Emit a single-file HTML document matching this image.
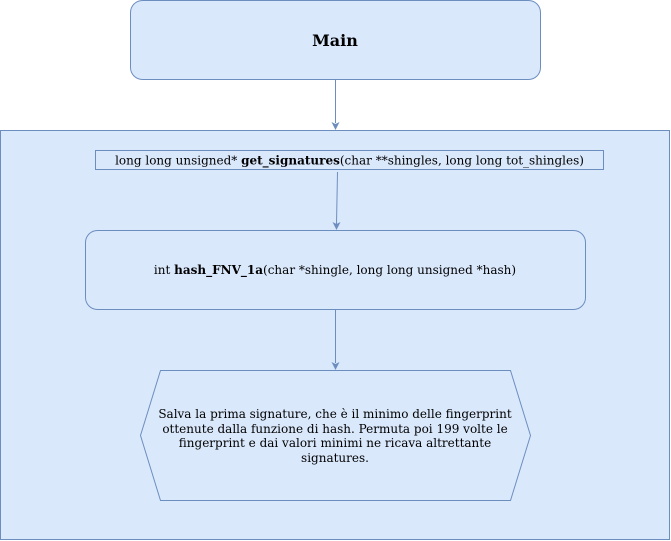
<!DOCTYPE html>
<html><head><meta charset="utf-8"><style>
html,body{margin:0;padding:0;background:#fff;width:671px;height:541px;overflow:hidden}
text{font-family:"DejaVu Serif","Liberation Serif",serif;fill:#000}
</style></head><body>
<svg width="671" height="541" viewBox="0 0 671 541" xmlns="http://www.w3.org/2000/svg">
<defs><marker id="a" markerWidth="8" markerHeight="8" refX="4" refY="7" orient="auto" markerUnits="userSpaceOnUse">
<path d="M0,0 L4,7 L8,0 L4,2 Z" fill="#6c8ebf" transform="rotate(-90 4 4) rotate(90 4 4)"/></marker></defs>
<rect x="130.5" y="0.5" width="410" height="79" rx="12" fill="#dae8fc" stroke="#6c8ebf"/>
<text x="335" y="46" text-anchor="middle" font-size="16" font-weight="bold">Main</text>
<rect x="0.5" y="130.5" width="669" height="409" fill="#dae8fc" stroke="#6c8ebf"/>
<line x1="335.5" y1="80" x2="335.5" y2="123" stroke="#6c8ebf"/>
<path d="M331.5,122 L335.5,130 L339.5,122 L335.5,124 Z" fill="#6c8ebf"/>
<rect x="95.5" y="150.5" width="508" height="19" fill="#dae8fc" stroke="#6c8ebf"/>
<text x="349.5" y="164.5" text-anchor="middle" font-size="12">long long unsigned* <tspan font-weight="bold">get_signatures</tspan>(char **shingles, long long tot_shingles)</text>
<line x1="337.5" y1="172" x2="336.5" y2="224" stroke="#6c8ebf"/>
<path d="M332.5,222 L336.5,230 L340.5,222 L336.5,224 Z" fill="#6c8ebf"/>
<rect x="85.5" y="230.5" width="500" height="79" rx="12" fill="#dae8fc" stroke="#6c8ebf"/>
<text x="335" y="274" text-anchor="middle" font-size="12">int <tspan font-weight="bold">hash_FNV_1a</tspan>(char *shingle, long long unsigned *hash)</text>
<line x1="335.5" y1="310" x2="335.5" y2="363" stroke="#6c8ebf"/>
<path d="M331.5,362 L335.5,370 L339.5,362 L335.5,364 Z" fill="#6c8ebf"/>
<polygon points="160.5,370.5 510.5,370.5 530.5,435.5 510.5,500.5 160.5,500.5 140.5,435.5" fill="#dae8fc" stroke="#6c8ebf"/>
<g font-size="12" text-anchor="middle">
<text x="335" y="418">Salva la prima signature, che è il minimo delle fingerprint</text>
<text x="335" y="433">ottenute dalla funzione di hash. Permuta poi 199 volte le</text>
<text x="335" y="447">fingerprint e dai valori minimi ne ricava altrettante</text>
<text x="335" y="462">signatures.</text>
</g>
</svg>
</body></html>
